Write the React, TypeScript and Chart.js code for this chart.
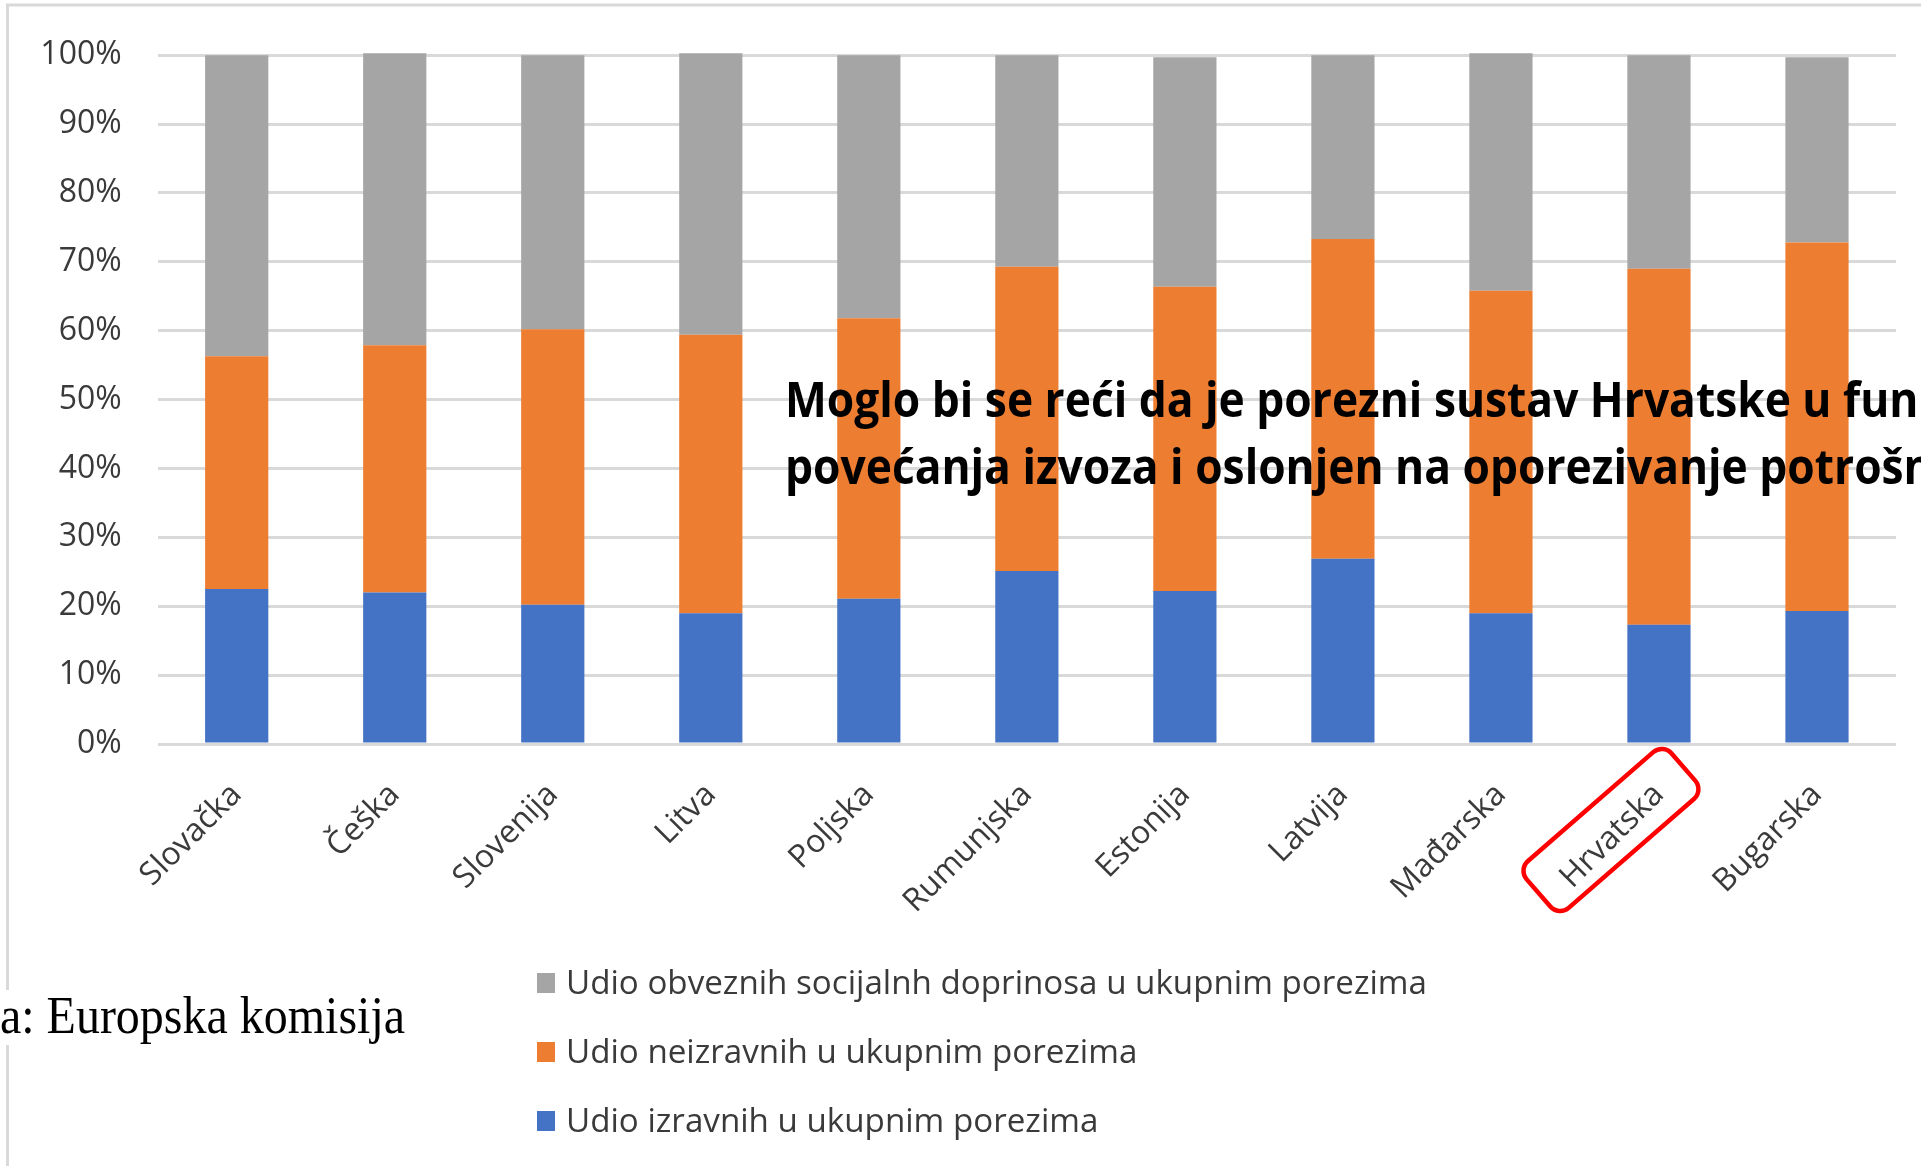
import React, { useEffect, useRef } from 'react';
import { Chart, registerables } from 'chart.js';

Chart.register(...registerables);

// ---------- data ----------
const categories = [
  'Slovačka', 'Češka', 'Slovenija', 'Litva', 'Poljska', 'Rumunjska',
  'Estonija', 'Latvija', 'Mađarska', 'Hrvatska', 'Bugarska',
];
// share of direct taxes in total taxes (%)
const izravniShare = [22.5, 22.0, 20.2, 19.0, 21.1, 25.1, 22.2, 26.9, 19.0, 17.3, 19.3];
// share of indirect taxes in total taxes (%)
const neizravniShare = [33.8, 35.9, 40.0, 40.4, 40.7, 44.2, 44.2, 46.4, 46.8, 51.7, 53.5];
// share of compulsory social contributions in total taxes (%)
const socijalniShare = [43.7, 42.4, 39.8, 40.9, 38.2, 30.7, 33.3, 26.7, 34.5, 31.0, 26.9];

const seriesLabels = [
  'Udio izravnih u ukupnim porezima',
  'Udio neizravnih u ukupnim porezima',
  'Udio obveznih socijalnh doprinosa u ukupnim porezima',
];
const seriesColors = ['#4472C4', '#ED7D31', '#A5A5A5'];

const yTickValues = [0, 10, 20, 30, 40, 50, 60, 70, 80, 90, 100];
const highlightedCategory = 'Hrvatska';
const noteLines = [
  'Moglo bi se reći da je porezni sustav Hrvatske u funkciji',
  'povećanja izvoza i oslonjen na oporezivanje potrošnje',
];
const sourceText = 'Izvor podataka: Europska komisija';
const sourceVisible = 'a: Europska komisija';

// ---------- styling ----------
const W = 1921;
const H = 1166;
const FONT = "'Open Sans', 'DejaVu Sans', sans-serif";
const TEXT_COLOR = '#3a3a3a';
const GRID_COLOR = '#d9d9d9';

function drawScaledText(
  ctx: CanvasRenderingContext2D,
  text: string,
  x: number,
  y: number,
  sx: number,
  sy: number
) {
  ctx.save();
  ctx.translate(x, y);
  ctx.scale(sx, sy);
  ctx.fillText(text, 0, 0);
  ctx.restore();
}

const decorPlugin = {
  id: 'decor',
  beforeDraw(chart: any) {
    const ctx: CanvasRenderingContext2D = chart.ctx;
    ctx.save();
    ctx.fillStyle = '#ffffff';
    ctx.fillRect(0, 0, chart.width, chart.height);
    ctx.strokeStyle = GRID_COLOR;
    ctx.lineWidth = 3;
    ctx.beginPath();
    ctx.moveTo(7.5, chart.height);
    ctx.lineTo(7.5, 5);
    ctx.lineTo(chart.width, 5);
    ctx.stroke();
    ctx.restore();
  },
  afterDraw(chart: any) {
    const ctx: CanvasRenderingContext2D = chart.ctx;
    const area = chart.chartArea;

    // overlay note (bold)
    ctx.save();
    ctx.fillStyle = '#000000';
    ctx.textBaseline = 'alphabetic';
    ctx.textAlign = 'left';
    ctx.font = `bold 47px ${FONT}`;
    const noteSx = 1058 / ctx.measureText('Moglo bi se reći da je porezni sustav Hrvatske u ').width;
    drawScaledText(ctx, noteLines[0], 785, 417, noteSx, 1.03);
    drawScaledText(ctx, noteLines[1], 785, 484, noteSx, 1.03);
    ctx.restore();

    // legend (custom, stacked vertically, reverse order)
    ctx.save();
    ctx.font = `31px ${FONT}`;
    ctx.textBaseline = 'middle';
    ctx.textAlign = 'left';
    const ds = chart.data.datasets;
    const legSx = 861 / ctx.measureText(ds[2].label).width;
    const rows = [983, 1052, 1121];
    for (let i = 0; i < ds.length; i++) {
      const d = ds[ds.length - 1 - i];
      const cy = rows[i];
      ctx.fillStyle = d.backgroundColor;
      ctx.fillRect(537, cy - 10, 18, 20);
      ctx.fillStyle = TEXT_COLOR;
      drawScaledText(ctx, d.label, 566, cy + 1, legSx, 1.08);
    }
    ctx.restore();

    // source text (serif, cut at left edge)
    ctx.save();
    ctx.font = `50px 'Liberation Serif', 'Times New Roman', serif`;
    ctx.textBaseline = 'alphabetic';
    ctx.textAlign = 'left';
    const fullW = ctx.measureText(sourceText).width;
    const visW = ctx.measureText(sourceVisible).width;
    const srcSx = 405 / visW;
    ctx.fillStyle = '#ffffff';
    ctx.fillRect(0, 990, 20, 55);
    ctx.fillStyle = '#000000';
    drawScaledText(ctx, sourceText, -(fullW - visW) * srcSx, 1033, srcSx, 1.06);
    ctx.restore();

    // red rounded box around highlighted category label
    const idx = categories.indexOf(highlightedCategory);
    const tx = chart.scales.x.getPixelForValue(idx);
    const cx = tx - 48;
    const cy = area.bottom + 86;
    ctx.save();
    ctx.translate(cx, cy);
    ctx.rotate((-41 * Math.PI) / 180);
    ctx.strokeStyle = '#FF0000';
    ctx.lineWidth = 4.5;
    const bw = 192;
    const bh = 62;
    ctx.beginPath();
    (ctx as any).roundRect(-bw / 2, -bh / 2, bw, bh, 13);
    ctx.stroke();
    ctx.restore();
  },
};

export default function App() {
  const canvasRef = useRef<HTMLCanvasElement | null>(null);

  useEffect(() => {
    document.body.style.margin = '0';
    document.body.style.overflow = 'hidden';
    const canvas = canvasRef.current;
    if (!canvas) return;

    const chart = new Chart(canvas, {
      type: 'bar',
      data: {
        labels: categories,
        datasets: [
          { label: seriesLabels[0], data: izravniShare, backgroundColor: seriesColors[0], clip: false as any },
          { label: seriesLabels[1], data: neizravniShare, backgroundColor: seriesColors[1], clip: false as any },
          { label: seriesLabels[2], data: socijalniShare, backgroundColor: seriesColors[2], clip: false as any },
        ],
      },
      options: {
        animation: false,
        responsive: false,
        maintainAspectRatio: false,
        devicePixelRatio: 1,
        layout: { padding: { top: 51, right: 25, left: 0, bottom: 0 } },
        datasets: { bar: { categoryPercentage: 1, barPercentage: 0.4 } },
        plugins: {
          legend: { display: false },
          tooltip: { enabled: false },
          title: { display: false },
        },
        scales: {
          x: {
            stacked: true,
            grid: { display: false },
            border: { display: false },
            ticks: {
              autoSkip: false,
              minRotation: 45,
              maxRotation: 45,
              padding: 24,
              color: TEXT_COLOR,
              font: { family: FONT, size: 32 },
            },
            afterFit: (s: any) => {
              s.height = H - 744;
            },
          },
          y: {
            stacked: true,
            min: 0,
            max: 100,
            afterBuildTicks: (s: any) => {
              s.ticks = yTickValues.map((v) => ({ value: v }));
            },
            ticks: {
              padding: 36,
              color: TEXT_COLOR,
              font: { family: FONT, size: 32 },
              callback: (v: any) => `${v}%`,
            },
            grid: { color: GRID_COLOR, lineWidth: 3, drawTicks: false },
            border: { display: false },
            afterFit: (s: any) => {
              s.width = 157.7;
            },
          },
        },
      },
      plugins: [decorPlugin],
    });

    return () => chart.destroy();
  }, []);

  return (
    <canvas
      ref={canvasRef}
      width={W}
      height={H}
      style={{ display: 'block', width: `${W}px`, height: `${H}px` }}
    />
  );
}
